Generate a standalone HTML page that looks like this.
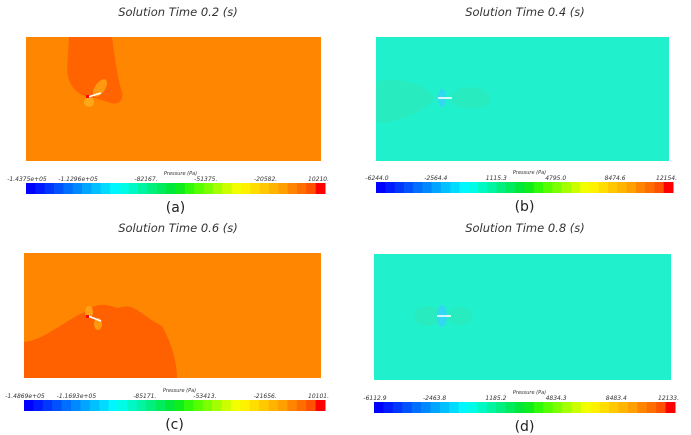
<!DOCTYPE html>
<html><head><meta charset="utf-8"><style>
html,body{margin:0;padding:0;background:#fff;width:691px;height:435px;overflow:hidden}
text{font-family:"DejaVu Sans","Liberation Sans",sans-serif}
</style></head><body>
<svg id="fig" width="691" height="435" viewBox="0 0 691 435" xmlns="http://www.w3.org/2000/svg">
<g id="pa">
 <text x="178" y="16" font-size="11.5" font-style="italic" text-anchor="middle" fill="#333">Solution Time 0.2 (s)</text>
 <rect x="26" y="37" width="295" height="124" fill="#FF8600"/>
 <path d="M69,37 L112,37 C115,60 118,80 122,92 C124,102 116,106 108,102 C100,100 96,98 88,97 C80,95 69,90 67,70 Z" fill="#FF6400"/>
 <ellipse cx="100" cy="88" rx="5" ry="10" transform="rotate(35 100 88)" fill="#FF9A10"/>
 <circle cx="89" cy="102" r="5" fill="#FFA818"/>
 <line x1="88" y1="97" x2="101" y2="93" stroke="#fff" stroke-width="1.6"/>
 <rect x="86" y="95" width="3" height="3" fill="#f00"/>
</g>
<g id="pb">
 <text x="525" y="16" font-size="11.5" font-style="italic" text-anchor="middle" fill="#333">Solution Time 0.4 (s)</text>
 <rect x="376" y="37" width="293" height="124" fill="#20F0CC"/>
 <path d="M376,82 C400,75 425,85 435,98 C425,110 400,125 376,122 Z" fill="#28ECC0"/>
 <ellipse cx="470" cy="98" rx="20" ry="11" fill="#28ECC0"/>
 <ellipse cx="442" cy="98" rx="4" ry="9" fill="#30D8F0"/>
 <line x1="438" y1="98" x2="452" y2="98" stroke="#fff" stroke-width="1.6"/>
</g>
<g id="pc">
 <text x="178" y="232" font-size="11.5" font-style="italic" text-anchor="middle" fill="#333">Solution Time 0.6 (s)</text>
 <rect x="24" y="253" width="297" height="125" fill="#FF8600"/>
 <path d="M24,342 C45,340 65,320 85,312 C100,300 108,306 118,308 C135,302 140,315 162,326 C170,340 177,360 177,378 L24,378 Z" fill="#FF6000"/>
 <ellipse cx="89" cy="312" rx="4" ry="6" fill="#FFA018"/>
 <ellipse cx="98" cy="324" rx="4" ry="6" fill="#FF9A10"/>
 <line x1="88" y1="316" x2="101" y2="321" stroke="#fff" stroke-width="1.6"/>
 <rect x="86" y="315" width="3" height="3" fill="#f00"/>
</g>
<g id="pd">
 <text x="525" y="232" font-size="11.5" font-style="italic" text-anchor="middle" fill="#333">Solution Time 0.8 (s)</text>
 <rect x="374" y="254" width="297" height="126" fill="#20F0CC"/>
 <ellipse cx="428" cy="316" rx="14" ry="10" fill="#28ECC0"/>
 <ellipse cx="460" cy="316" rx="12" ry="9" fill="#28ECC0"/>
 <ellipse cx="442" cy="316" rx="5" ry="11" fill="#30D8F0"/>
 <line x1="437" y1="316" x2="451" y2="316" stroke="#fff" stroke-width="1.6"/>
</g>
<g id="bars"></g>
</svg>
<script>
const tickLabelsA=["-1.4375e+05","-1.1296e+05","-82167.","-51375.","-20582.","10210."];
const tickLabelsB=["-6244.0","-2564.4","1115.3","4795.0","8474.6","12154."];
const tickLabelsC=["-1.4869e+05","-1.1693e+05","-85171.","-53413.","-21656.","10101."];
const tickLabelsD=["-6112.9","-2463.8","1185.2","4834.3","8483.4","12133."];
const panelLetters=["(a)","(b)","(c)","(d)"];
const NS="http://www.w3.org/2000/svg";
const stops=[[0,[0,0,255]],[0.3,[0,255,255]],[0.5,[0,230,40]],[0.56,[60,255,0]],[0.72,[255,255,0]],[0.87,[255,160,0]],[0.97,[255,80,0]],[1,[255,0,0]]];
function cmap(t){for(let i=1;i<stops.length;i++){if(t<=stops[i][0]){const a=stops[i-1],b=stops[i];const f=(t-a[0])/(b[0]-a[0]);return 'rgb('+a[1].map((v,k)=>Math.round(v+(b[1][k]-v)*f)).join(',')+')';}}return 'rgb(255,0,0)';}
const layouts=[{x:26,y:183,w:299,lab:tickLabelsA},{x:376,y:182,w:297,lab:tickLabelsB},{x:24,y:400,w:301,lab:tickLabelsC},{x:374,y:402,w:301,lab:tickLabelsD}];
const g=document.getElementById('bars');
layouts.forEach((L,p)=>{
 const grp=document.createElementNS(NS,'g');
 
 
 const n=32,sw=L.w/n;
 for(let i=0;i<n;i++){const r=document.createElementNS(NS,'rect');
  
  
  r.setAttribute('x',L.x+i*sw);r.setAttribute('y',L.y);r.setAttribute('width',sw+0.5);r.setAttribute('height',11);r.setAttribute('fill',cmap(i/(n-1)));grp.appendChild(r);}
 const t=document.createElementNS(NS,'text');
 
 
 t.setAttribute('x',L.x+L.w/2+5);t.setAttribute('y',L.y-8);t.setAttribute('font-size','5');t.setAttribute('font-style','italic');t.setAttribute('text-anchor','middle');t.setAttribute('fill','#333');t.textContent='Pressure (Pa)';grp.appendChild(t);
 L.lab.forEach((s,i)=>{const tt=document.createElementNS(NS,'text');
  
  
  const xx=L.x+i*L.w/5;
  let ax=xx+12, anc='end';
  if(i==0){ax=xx+1;anc='middle';}
  if(i==5){ax=xx+4;anc='end';}
  tt.setAttribute('x',ax);tt.setAttribute('y',L.y-2);tt.setAttribute('font-size','6');tt.setAttribute('font-style','italic');tt.setAttribute('text-anchor',anc);tt.setAttribute('fill','#333');tt.textContent=s;grp.appendChild(tt);});
 const pl=document.createElementNS(NS,'text');
 
 
 pl.setAttribute('x',L.x+L.w/2);pl.setAttribute('y',L.y+29);pl.setAttribute('font-size','14');pl.setAttribute('text-anchor','middle');pl.setAttribute('fill','#222');pl.textContent=panelLetters[p];grp.appendChild(pl);
 g.appendChild(grp);
});
</script>
</body></html>
